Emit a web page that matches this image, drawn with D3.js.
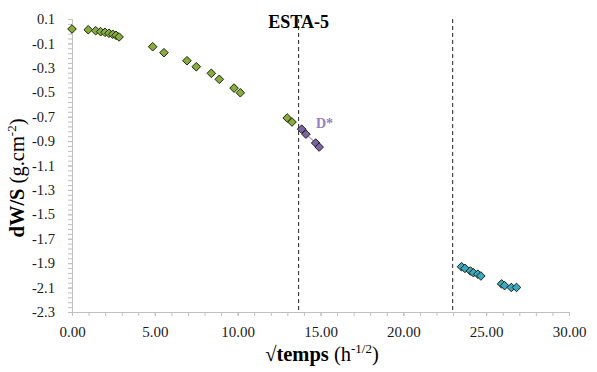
<!DOCTYPE html>
<html>
<head>
<meta charset="utf-8">
<script src="https://cdn.jsdelivr.net/npm/d3@7"></script>
<style>
  html, body { margin: 0; padding: 0; background: #fff; }
  svg { display: block; font-family: 'Liberation Serif', 'Times New Roman', serif; }
  svg text { font-family: 'Liberation Serif', 'Times New Roman', serif !important; }
</style>
</head>
<body>
<svg id="chart" width="597" height="372"></svg>
<script>
// ---- data ----
const greenX = [0, 0.98, 1.43, 1.73, 1.99, 2.23, 2.46, 2.66, 2.84, 4.87, 5.55, 6.94, 7.50, 8.41, 8.89, 9.78, 10.16, 12.99, 13.28];
const greenY = [0.018, 0.012, 0.004, -0.004, -0.009, -0.017, -0.025, -0.034, -0.047, -0.127, -0.176, -0.242, -0.291, -0.345, -0.394, -0.466, -0.504, -0.711, -0.744];
const purpleX = [13.86, 14.12, 14.71, 14.92];
const purpleY = [-0.802, -0.843, -0.916, -0.949];
const cyanX = [23.51, 23.72, 24.05, 24.23, 24.50, 24.68, 25.93, 26.11, 26.52, 26.83];
const cyanY = [-1.929, -1.943, -1.964, -1.978, -1.990, -2.005, -2.070, -2.084, -2.099, -2.099];
const dividers = [13.68, 22.98];
const xTickValues = [0, 5, 10, 15, 20, 25, 30];
const xTickLabels = ["0.00", "5.00", "10.00", "15.00", "20.00", "25.00", "30.00"];
const yTickValues = [0.1, -0.1, -0.3, -0.5, -0.7, -0.9, -1.1, -1.3, -1.5, -1.7, -1.9, -2.1, -2.3];
const yTickLabels = ["0.1", "-0.1", "-0.3", "-0.5", "-0.7", "-0.9", "-1.1", "-1.3", "-1.5", "-1.7", "-1.9", "-2.1", "-2.3"];
const title = "ESTA-5";
const seriesLabel = "D*";

(function () {
// ---- layout ----
const svg = d3.select("#chart");
const mLeft = 72, mRight = 569, mTop = 19, mBottom = 312;
const x = d3.scaleLinear().domain([0, 30]).range([mLeft, mRight]);
const y = d3.scaleLinear().domain([-2.3, 0.1]).range([mBottom, mTop]);
const font = "'Liberation Serif', 'Times New Roman', serif";
const axisColor = "#bfbfbf";

// minor ticks
const xMinor = d3.range(0, 31);
const yMinor = d3.range(0, 61).map(i => +(0.1 - i * 0.04).toFixed(2));

const gxMinor = svg.append("g").attr("transform", `translate(0,${mBottom})`)
  .call(d3.axisBottom(x).tickValues(xMinor).tickSize(4).tickFormat(""));
const gyMinor = svg.append("g").attr("transform", `translate(${mLeft},0)`)
  .call(d3.axisLeft(y).tickValues(yMinor).tickSize(4).tickFormat(""));
[gxMinor, gyMinor].forEach(g => {
  g.selectAll("path").attr("stroke", axisColor);
  g.selectAll("line").attr("stroke", axisColor);
});

const gx = svg.append("g").attr("transform", `translate(0,${mBottom})`)
  .call(d3.axisBottom(x).tickValues(xTickValues).tickSize(4).tickPadding(10)
    .tickFormat((d, i) => xTickLabels[i]));
const gy = svg.append("g").attr("transform", `translate(${mLeft},0)`)
  .call(d3.axisLeft(y).tickValues(yTickValues).tickSize(4).tickPadding(13)
    .tickFormat((d, i) => yTickLabels[i]));
[gx, gy].forEach(g => {
  g.attr("font-family", font);
  g.selectAll("path").attr("stroke", axisColor);
  g.selectAll("line").attr("stroke", axisColor);
  g.selectAll("text").attr("fill", "#1a1a1a").style("font-family", font);
});
gx.attr("font-size", 15).selectAll("text").style("font-size", "15px");
gy.attr("font-size", 14.5).selectAll("text").style("font-size", "14.5px");

// dashed divider lines
svg.append("g").selectAll("line").data(dividers).join("line")
  .attr("x1", d => x(d)).attr("x2", d => x(d))
  .attr("y1", y(0.1)).attr("y2", mBottom)
  .attr("stroke", "#222").attr("stroke-width", 1)
  .attr("stroke-dasharray", "4,3");

// purple connecting line
const purple = purpleX.map((v, i) => [v, purpleY[i]]);
svg.append("path").datum(purple)
  .attr("fill", "none").attr("stroke", "#a898cf").attr("stroke-width", 1.2)
  .attr("d", d3.line().x(d => x(d[0])).y(d => y(d[1])));

// markers
const diamond = "M0,-4.3L4.3,0L0,4.3L-4.3,0Z";
function drawSeries(xs, ys, fill) {
  svg.append("g").selectAll("path").data(xs.map((v, i) => [v, ys[i]])).join("path")
    .attr("d", diamond)
    .attr("transform", d => `translate(${x(d[0])},${y(d[1])})`)
    .attr("fill", fill).attr("stroke", "#1a2410").attr("stroke-width", 1);
}
drawSeries(greenX, greenY, "#86ad3c");
drawSeries(purpleX, purpleY, "#7e62a8");
drawSeries(cyanX, cyanY, "#3aa7c4");

// title
svg.append("text").attr("x", x(dividers[0])).attr("y", 28)
  .attr("text-anchor", "middle").style("font-family", font)
  .style("font-size", "18px").style("font-weight", "bold").attr("fill", "#000")
  .text(title);

// D* label
svg.append("text").attr("x", 316).attr("y", 128)
  .style("font-family", font).style("font-size", "14px").style("font-weight", "bold")
  .attr("fill", "#9480c6").text(seriesLabel);

// x axis title
const xt = svg.append("text").attr("x", 322).attr("y", 361)
  .attr("text-anchor", "middle").style("font-family", font).style("font-size", "20.5px").attr("fill", "#000");
xt.append("tspan").style("font-weight", "bold").text("√temps");
xt.append("tspan").text(" (h");
xt.append("tspan").attr("dy", -8).style("font-size", "13px").text("-1/2");
xt.append("tspan").attr("dy", 8).text(")");

// y axis title
const yt = svg.append("text").attr("transform", "translate(24,178) rotate(-90)")
  .attr("text-anchor", "middle").style("font-family", font).style("font-size", "20.5px").attr("fill", "#000");
yt.append("tspan").style("font-weight", "bold").text("dW/S");
yt.append("tspan").text(" (g.cm");
yt.append("tspan").attr("dy", -8).style("font-size", "13px").text("-2");
yt.append("tspan").attr("dy", 8).text(")");
})();
</script>
</body>
</html>
